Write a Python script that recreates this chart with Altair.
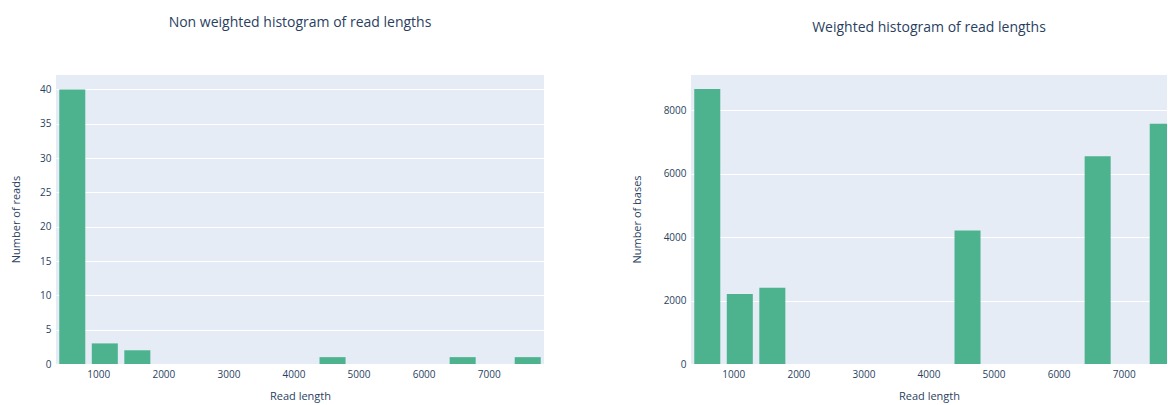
import altair as alt
import pandas as pd

# Histogram bins of read length (bp)
BIN_START = 350
BIN_WIDTH = 500
bin_index = [0, 1, 2, 8, 12, 14]

# Number of reads per bin
read_counts = [40, 3, 2, 1, 1, 1]
# Number of bases per bin (read count weighted by length)
base_counts = [8667, 2203, 2405, 4205, 6547, 7574]

x_ticks = [1000, 2000, 3000, 4000, 5000, 6000, 7000]

BAR_COLOR = "#4cb38e"
PLOT_BG = "#e5ecf6"
TEXT = "#2a3f5f"
FONT = "Open Sans"
BARGAP = 0.2


def bin_frame(values):
    rows = []
    for i, v in zip(bin_index, values):
        lo = BIN_START + i * BIN_WIDTH
        hi = lo + BIN_WIDTH
        pad = BIN_WIDTH * BARGAP / 2
        rows.append({"x0": lo + pad, "x1": hi - pad, "value": v})
    return pd.DataFrame(rows)


def histogram(values, title, y_title, x_domain, y_domain, y_ticks,
              width, title_offset, y_title_x):
    df = bin_frame(values)
    x_axis = alt.Axis(
        values=x_ticks, format="d", grid=False, ticks=False, domain=False,
        labelPadding=5, labelFontSize=10, labelColor=TEXT, labelFont=FONT,
        title="Read length", titleFontSize=11, titleColor=TEXT,
        titleFont=FONT, titleFontWeight="normal", titleBaseline="middle",
        titleY=32,
    )
    y_axis = alt.Axis(
        values=y_ticks, format="d", grid=True, gridColor="white",
        gridWidth=1, ticks=False, domain=False, labelPadding=5,
        labelFontSize=10, labelColor=TEXT, labelFont=FONT,
        title=y_title, titleFontSize=11, titleColor=TEXT, titleFont=FONT,
        titleFontWeight="normal", titleX=y_title_x, titleY=144,
        titleBaseline="middle", titleAlign="center",
    )
    return (
        alt.Chart(df)
        .mark_rect(color=BAR_COLOR, clip=True)
        .encode(
            x=alt.X("x0:Q", axis=x_axis,
                    scale=alt.Scale(domain=x_domain, nice=False, zero=False)),
            x2="x1:Q",
            y=alt.Y("value:Q", axis=y_axis,
                    scale=alt.Scale(domain=y_domain, nice=False)),
            y2=alt.datum(0),
        )
        .properties(
            width=width,
            height=289,
            title=alt.TitleParams(
                title, fontSize=14, font=FONT, color=TEXT,
                fontWeight="normal", anchor="middle", offset=title_offset,
            ),
        )
    )


left = histogram(
    read_counts, "Non weighted histogram of read lengths", "Number of reads",
    x_domain=[BIN_START, BIN_START + 15 * BIN_WIDTH], y_domain=[0, 42.1],
    y_ticks=[0, 5, 10, 15, 20, 25, 30, 35, 40], width=488,
    title_offset=45, y_title_x=-40,
)
right = histogram(
    base_counts, "Weighted histogram of read lengths", "Number of bases",
    x_domain=[BIN_START, BIN_START + 476 * 15 * BIN_WIDTH / 488],
    y_domain=[0, 9110], y_ticks=[0, 2000, 4000, 6000, 8000], width=476,
    title_offset=40, y_title_x=-54,
)

chart = (
    alt.hconcat(left, right, spacing=147, bounds="flush")
    .properties(padding={"left": 10, "top": 16, "right": 0, "bottom": 12})
    .configure(background="white")
    .configure_view(fill=PLOT_BG, stroke=None)
)

chart.save("out.html", embed_options={"renderer": "svg", "actions": False})
